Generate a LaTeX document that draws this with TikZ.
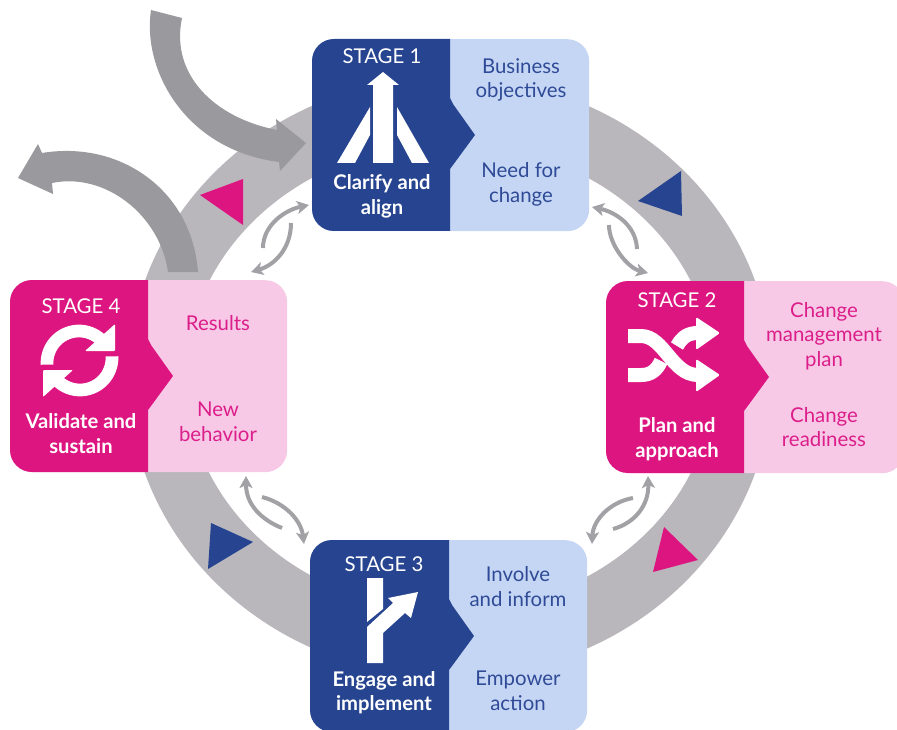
\documentclass[tikz,border=0pt]{standalone}
\usepackage{fontspec}
\setmainfont{Lato}
\usetikzlibrary{arrows.meta}
\definecolor{navy}{HTML}{26448F}
\definecolor{navytext}{HTML}{2F4A96}
\definecolor{paleblue}{HTML}{C5D6F5}
\definecolor{magenta1}{HTML}{DD1581}
\definecolor{pinktext}{HTML}{DC1E8A}
\definecolor{palepink}{HTML}{F7C9E6}
\definecolor{ringgrey}{HTML}{B9B7BC}
\definecolor{bigarrow}{HTML}{9A999E}
\definecolor{smallarrow}{HTML}{A2A2A6}
\tikzset{
  x=1pt,y=-1pt,
  txt/.style={align=center,inner sep=0pt,font=\fontsize{20.4}{24.5}\selectfont},
  head/.style={txt,text=white},
  title/.style={txt,text=white,font=\fontsize{20.2}{24.5}\selectfont\bfseries},
  cardbg/.style={rectangle,rounded corners=22pt,anchor=north west,inner sep=0pt,minimum height=192pt},
  swap/.style={draw=smallarrow,line width=4pt,-{Stealth[length=12pt,width=13pt,inset=3pt]}},
}
% name, x0, y0, width, split offset, dark colour, light colour
\newcommand\stagecard[7]{%
  \node[cardbg,fill=#7,minimum width=#4 pt] (#1) at (#2,#3) {};
  \fill[#6] (#2+#5,#3) [rounded corners=22pt] -- (#2,#3) -- (#2,#3+192) [sharp corners] -- (#2+#5,#3+192)
    -- (#2+#5,#3+130) -- (#2+#5+3,#3+126) -- (#2+#5+25,#3+96) -- (#2+#5+3,#3+65) -- (#2+#5,#3+59) -- cycle;
}
\begin{document}
\begin{tikzpicture}
\useasboundingbox (0,0) rectangle (897,730);
\clip (0,0) rectangle (897,730);

% ring
\fill[ringgrey,even odd rule] (450,377) ellipse [x radius=322,y radius=300]
   (450,377) ellipse [x radius=264,y radius=233.5];

% big grey arrows
\fill[bigarrow] (151,10) .. controls (142,70) and (185,150) .. (279,162)
   -- (280,171) -- (306,143) -- (276,119) -- (277,130)
   .. controls (215,118) and (170,75) .. (182,18) -- cycle;
\fill[bigarrow] (198,272) .. controls (192,190) and (120,140) .. (42,153)
   -- (38,144) -- (18,178) -- (53,194) -- (52,183)
   .. controls (105,172) and (160,215) .. (168,272) -- cycle;

% triangles
\fill[navy] (681,171) -- (638,201) -- (682,216) -- cycle;
\fill[magenta1] (664,527) -- (698,560) -- (653,572) -- cycle;
\fill[navy] (211,523) -- (253,542) -- (208,569) -- cycle;
\fill[magenta1] (200,195) -- (243,179) -- (243,225) -- cycle;

% stage cards
\stagecard{s1}{312}{39}{277}{138}{navy}{paleblue}
\stagecard{s2}{606}{281}{298}{138}{magenta1}{palepink}
\stagecard{s3}{310}{540}{277}{139}{navy}{paleblue}
\stagecard{s4}{10}{280}{277}{138}{magenta1}{palepink}

% small swap arrows
\coordinate (tla) at (263,248); \coordinate (tlb) at (309,205);
\coordinate (tlc) at (291,223); \coordinate (tld) at (251,272);
\coordinate (tra) at (637,249); \coordinate (trb) at (592,207);
\coordinate (trc) at (609,225); \coordinate (trd) at (648,273);
\coordinate (bra) at (633,498); \coordinate (brb) at (592,544);
\coordinate (brc) at (613,529); \coordinate (brd) at (648,476);
\coordinate (bla) at (282,528); \coordinate (blb) at (246,476);
\coordinate (blc) at (262,497); \coordinate (bld) at (304,544);
\draw[swap] (tla) .. controls (263,225) and (285,210) .. (tlb);
\draw[swap] (tlc) .. controls (291,248) and (275,265) .. (tld);
\draw[swap] (tra) .. controls (636,225) and (615,212) .. (trb);
\draw[swap] (trc) .. controls (609,245) and (628,268) .. (trd);
\draw[swap] (bra) .. controls (610,502) and (593,520) .. (brb);
\draw[swap] (brc) .. controls (635,523) and (649,505) .. (brd);
\draw[swap] (bla) .. controls (262,520) and (246,505) .. (blb);
\draw[swap] (blc) .. controls (285,503) and (301,520) .. (bld);

% icon 1: converging roads
\fill[white] (383,72) -- (399,85) -- (393,85) -- (393,163) -- (373,163) -- (373,85) -- (367,85) -- cycle;
\fill[white] (337,163) -- (370,107) -- (370,135) -- (355,163) -- cycle;
\fill[white] (397,107) -- (397,135) -- (412,163) -- (429,163) -- cycle;

% icon 2: shuffle
\draw[white,line width=14pt] (628,336) -- (641,336) .. controls (664,336) and (672,375) .. (698,375);
\draw[white,line width=14pt] (628,375) -- (641,375) .. controls (651,375) and (657,370) .. (661,361);
\draw[white,line width=14pt] (677,346) .. controls (682,337) and (688,333) .. (698,333);
\fill[white,rounded corners=1.5pt] (696,359) -- (720,375) -- (696,392) -- cycle;
\fill[white,rounded corners=1.5pt] (696,317) -- (720,333) -- (696,350) -- cycle;

% icon 3: road fork
\fill[white] (367,578) -- (383,578) -- (383,609) -- (367,622) -- cycle;
\fill[white] (367,663) -- (367,627) -- (393,603) -- (388,598) -- (418,592) -- (411,618) -- (405,613) -- (383,633) -- (383,663) -- cycle;

% icon 4: cycle
\draw[white,line width=12.7pt] plot[smooth,domain=183:45,samples=24] ({79+32*cos(\x)},{363-32*sin(\x)});
\fill[white,rounded corners=1pt] (115,324) -- (115,351) -- (85,351) -- cycle;
\draw[white,line width=12.7pt] plot[smooth,domain=3:-135,samples=24] ({80+32*cos(\x)},{358-32*sin(\x)});
\fill[white,rounded corners=1pt] (43,370) -- (73,370) -- (43,397) -- cycle;

% stage 1 text
\node[head] (h1) at (382,56.5) {STAGE 1};
\node[title] (t1) at (382,196.5) {Clarify and\\align};
\node[txt,text=navytext] (a1) at (521,80) {Business\\objectives};
\node[txt,text=navytext] (b1) at (521,184.5) {Need for\\change};
% stage 2 text
\node[head] (h2) at (677,300) {STAGE 2};
\node[title] (t2) at (677,439) {Plan and\\approach};
\node[txt,text=pinktext] (a2) at (824,336) {Change\\management\\plan};
\node[txt,text=pinktext] (b2) at (824,427) {Change\\readiness};
% stage 3 text
\node[head] (h3) at (384,564) {STAGE 3};
\node[title] (t3) at (384,692.5) {Engage and\\implement};
\node[txt,text=navytext] (a3) at (518,586.5) {Involve\\and inform};
\node[txt,text=navytext] (b3) at (518,691) {Empower\\action};
% stage 4 text
\node[head] (h4) at (81,306) {STAGE 4};
\node[title] (t4) at (81,433.5) {Validate and\\sustain};
\node[txt,text=pinktext] (a4) at (218,323) {Results};
\node[txt,text=pinktext] (b4) at (218,422) {New\\behavior};
\end{tikzpicture}
\end{document}
